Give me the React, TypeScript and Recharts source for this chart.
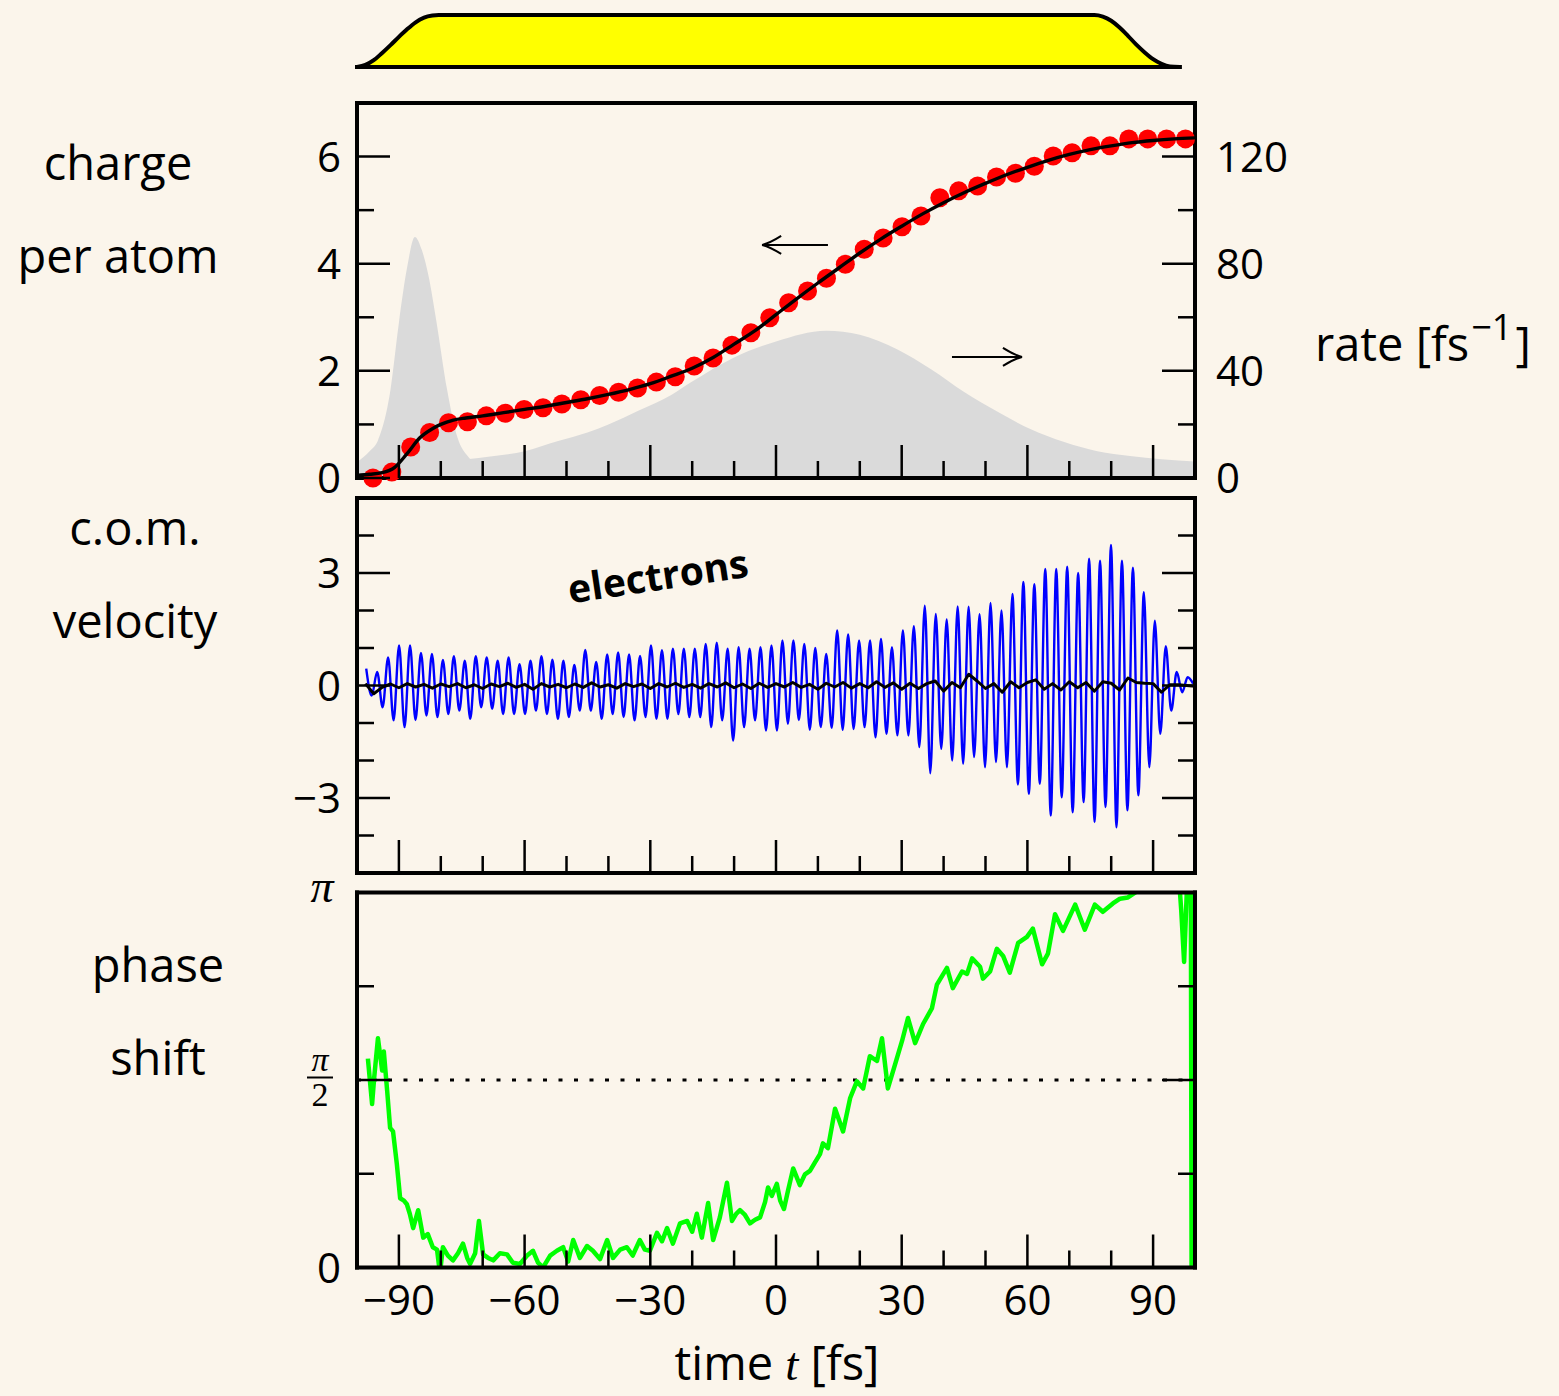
import React from 'react';
import { ComposedChart, Line, Area, XAxis, YAxis, ReferenceLine } from 'recharts';

// ---------- page geometry ----------
const W = 1559;
const H = 1396;
const BG = '#FBF5EB';
const SANS = "'Open Sans', 'DejaVu Sans', sans-serif";
const MATH = "'Liberation Serif', 'DejaVu Serif', serif";
const PLOT_LEFT = 357;
const PLOT_RIGHT = 1195;
const AXIS_W = 60;
const AXIS_H = 30;
const MAJOR = 33;
const MINOR = 17;
const TICK_W = 2.5;
const FRAME = { stroke: '#000', strokeWidth: 4, strokeLinecap: 'square' as const };

// ---------- axes ----------
const timeTicks = [-90, -80, -70, -60, -50, -40, -30, -20, -10, 0, 10, 20, 30, 40, 50, 60, 70, 80, 90];
const chargeTicks = [0, 1, 2, 3, 4, 5, 6, 7];
const chargeLabels = [0, 2, 4, 6];
const rateTicks = [0, 20, 40, 60, 80, 100, 120, 140];
const rateLabels = [0, 40, 80, 120];
const velTicks = [-5, -4, -3, -2, -1, 0, 1, 2, 3, 4, 5];
const velLabels = [-3, 0, 3];
const phaseTicks = [0, Math.PI / 4, Math.PI / 2, (3 * Math.PI) / 4, Math.PI];

// ---------- laser pulse envelope (t [fs], relative intensity) ----------
const pulseEnvelope: [number, number][] = [
  [-100, 0], [-98, 0.04], [-96, 0.13], [-94, 0.27], [-92, 0.42], [-90, 0.58], [-88, 0.73],
  [-86, 0.86], [-84, 0.95], [-82, 0.99], [-80.5, 1], [76, 1], [78, 0.97], [80, 0.89],
  [82, 0.76], [84, 0.6], [86, 0.43], [88, 0.28], [90, 0.15], [92, 0.06], [94, 0.01], [96.4, 0],
];
const pulseEnd = 96.4;

// ---------- charge per atom ----------
const chargeDotStart = -96.2;
const chargeDotStep = 4.51;
const chargeDots = [
  0.0, 0.11, 0.58, 0.85, 1.03, 1.05, 1.16, 1.21, 1.28, 1.31, 1.38, 1.46, 1.54, 1.6, 1.68,
  1.79, 1.89, 2.09, 2.24, 2.48, 2.71, 2.99, 3.27, 3.49, 3.73, 3.99, 4.27, 4.48, 4.69, 4.89,
  5.23, 5.36, 5.45, 5.62, 5.69, 5.82, 6.01, 6.07, 6.2, 6.2, 6.33, 6.33, 6.33, 6.33,
];
const chargeFit: [number, number][] = [
  [-100, 0.05], [-97, 0.07], [-94, 0.1], [-91, 0.2], [-88, 0.46], [-85, 0.75], [-82, 0.92],
  [-80, 1.0], [-77, 1.08], [-74, 1.12], [-70, 1.16], [-65, 1.22], [-60, 1.28], [-55, 1.34],
  [-50, 1.41], [-45, 1.48], [-40, 1.56], [-35, 1.65], [-30, 1.76], [-25, 1.9], [-20, 2.05],
  [-15, 2.25], [-10, 2.5], [-5, 2.75], [0, 3.05], [5, 3.35], [10, 3.64], [15, 3.92], [20, 4.2],
  [25, 4.46], [30, 4.7], [35, 4.93], [40, 5.14], [45, 5.33], [50, 5.5], [55, 5.66], [60, 5.8],
  [65, 5.93], [70, 6.04], [75, 6.13], [80, 6.2], [85, 6.26], [90, 6.3], [95, 6.33], [100, 6.35],
];

// ---------- ionization rates [1/fs] ----------
const rateInner: [number, number][] = [
  [-100, 6], [-97, 10], [-95, 14], [-92, 33], [-90, 58], [-88, 79], [-86.2, 90], [-84.5, 85],
  [-83, 76], [-81, 58], [-78.5, 33], [-76, 15], [-73.5, 8], [-70, 4], [-65, 2], [-55, 1],
  [-40, 0.4], [-20, 0],
];
const rateOuter: [number, number][] = [
  [-100, 3], [-90, 4.5], [-80, 6], [-71, 7.5], [-60, 10], [-52, 13.8], [-45, 17], [-40, 20],
  [-33, 25], [-25, 31], [-20, 36], [-10, 45], [0, 51], [12, 55], [20, 53.5], [29, 48],
  [37, 40.6], [45, 32], [53, 24.6], [60.7, 18.3], [68.8, 13.4], [76.7, 10], [84.5, 8.2],
  [92, 7], [100, 6.2],
];

// ---------- centre-of-mass velocity ----------
// electrons: successive extrema, sampled every half period
const electronStart = -97.8;
const electronStep = 1.307;
const electronVel = [
  0.45, -0.27, 0.36, -0.58, 0.75, -0.93, 1.07, -1.11, 1.07, -0.92, 0.87, -0.8, 0.84, -0.84,
  0.68, -0.76, 0.78, -0.67, 0.66, -0.89, 0.78, -0.58, 0.75, -0.62, 0.66, -0.76, 0.75, -0.76,
  0.57, -0.76, 0.66, -0.67, 0.78, -0.76, 0.69, -0.89, 0.66, -0.84, 0.55, -0.67, 0.95, -0.67,
  0.63, -0.89, 0.83, -0.76, 0.88, -0.84, 0.83, -0.93, 0.79, -0.84, 1.07, -0.89, 0.94, -0.89,
  0.98, -0.76, 0.98, -0.84, 0.98, -0.84, 1.11, -1.11, 1.14, -0.93, 0.98, -1.47, 1.02, -1.11,
  0.98, -0.93, 1.02, -1.2, 1.07, -1.2, 1.2, -1.02, 1.2, -0.92, 1.11, -1.18, 1.0, -1.11, 0.84,
  -1.13, 1.47, -1.18, 1.36, -1.16, 1.2, -1.11, 1.2, -1.38, 1.24, -1.29, 1.02, -1.33, 1.47,
  -1.33, 1.58, -1.64, 2.13, -2.34, 1.91, -1.69, 1.76, -2.0, 2.11, -2.09, 2.1, -1.91, 1.9,
  -2.18, 2.2, -2.04, 2.0, -2.18, 2.44, -2.64, 2.76, -2.89, 2.7, -2.62, 3.11, -3.47, 3.11,
  -2.98, 3.17, -3.38, 3.0, -3.11, 3.38, -3.64, 3.33, -3.24, 3.75, -3.78, 3.33, -3.33, 3.14,
  -2.93, 2.49, -2.18, 1.73, -1.29, 1.05, -0.67, 0.36, -0.18, 0.22, 0.05,
];
// ions: sampled every 2 fs
const ionStart = -98;
const ionStep = 2;
const ionVel = [
  0.05, -0.22, -0.05, 0.04, -0.06, 0.05, -0.04, 0.03, -0.07, 0.04, -0.03, 0.05, -0.06, 0.02,
  -0.08, 0.04, -0.03, 0.06, -0.05, 0.03, -0.1, 0.05, -0.04, 0.03, -0.06, 0.04, -0.05, 0.07,
  -0.04, 0.02, -0.07, 0.05, -0.03, 0.04, -0.08, 0.05, -0.04, 0.06, -0.05, 0.03, -0.07, 0.05,
  -0.04, 0.07, -0.06, 0.04, -0.08, 0.06, -0.05, 0.05, -0.04, 0.08, -0.05, 0.03, -0.1, 0.06,
  -0.04, 0.08, -0.07, 0.05, -0.06, 0.1, -0.05, 0.07, -0.1, 0.06, -0.08, 0.05, 0.12, -0.15,
  0.08, -0.06, 0.3, 0.12, -0.08, 0.05, -0.18, 0.1, -0.06, 0.08, 0.15, -0.1, 0.05, -0.12, 0.1,
  -0.06, 0.08, -0.15, 0.1, 0.06, -0.12, 0.2, 0.08, 0.06, 0.05, -0.18, 0.02, 0.02, 0.0, -0.02,
];

// ---------- phase shift (t [fs], rad) ----------
const phaseShift: [number, number][] = [
  [-97.4, 1.75], [-96.4, 1.37], [-95.9, 1.59], [-95.0, 1.92], [-94.0, 1.65], [-93.6, 1.81],
  [-92.8, 1.48], [-92.1, 1.17], [-91.4, 1.14], [-90.5, 0.87], [-89.7, 0.58], [-88.8, 0.56],
  [-88.1, 0.53], [-87.4, 0.45], [-86.6, 0.33], [-85.4, 0.48], [-84.2, 0.25], [-83.1, 0.28],
  [-81.9, 0.17], [-80.9, 0.15], [-80.2, -0.05], [-79.5, 0.17], [-78.3, 0.1], [-77.1, 0.06],
  [-75.9, 0.12], [-74.7, 0.2], [-73.7, 0.08], [-73.0, 0.03], [-71.8, 0.12], [-70.9, 0.39],
  [-69.9, 0.11], [-68.7, 0.08], [-67.5, 0.06], [-65.9, 0.12], [-64.2, 0.11], [-62.8, 0.04],
  [-61.1, 0.03], [-59.4, 0.1], [-58.0, 0.14], [-56.8, 0.04], [-55.6, 0.0], [-53.9, 0.1],
  [-52.3, 0.14], [-50.8, 0.17], [-49.6, 0.05], [-48.4, 0.23], [-46.8, 0.08], [-45.1, 0.18],
  [-43.7, 0.14], [-42.0, 0.07], [-40.3, 0.23], [-38.9, 0.08], [-37.2, 0.15], [-35.6, 0.17],
  [-34.2, 0.1], [-32.5, 0.23], [-31.3, 0.15], [-30.1, 0.14], [-28.4, 0.29], [-27.2, 0.22],
  [-26.0, 0.33], [-24.6, 0.2], [-22.9, 0.37], [-21.2, 0.39], [-20.0, 0.3], [-18.9, 0.45],
  [-17.7, 0.25], [-16.2, 0.54], [-15.0, 0.23], [-13.4, 0.42], [-11.7, 0.71], [-10.5, 0.39],
  [-9.5, 0.45], [-8.6, 0.48], [-7.4, 0.44], [-6.2, 0.37], [-5.0, 0.4], [-3.8, 0.42],
  [-2.6, 0.55], [-1.9, 0.67], [-1.0, 0.6], [0.2, 0.7], [1.0, 0.56], [1.9, 0.49], [2.9, 0.65],
  [4.1, 0.83], [5.7, 0.69], [6.9, 0.78], [8.1, 0.81], [9.3, 0.88], [10.5, 0.95], [11.2, 1.04],
  [12.4, 1.0], [14.1, 1.33], [16.0, 1.14], [17.7, 1.42], [19.3, 1.56], [20.8, 1.5],
  [22.4, 1.77], [24.1, 1.73], [25.3, 1.92], [26.7, 1.5], [28.4, 1.7], [30.1, 1.9], [31.5, 2.09],
  [33.2, 1.88], [35.1, 2.04], [37.2, 2.17], [38.4, 2.37], [40.8, 2.51], [42.2, 2.34],
  [44.4, 2.48], [45.6, 2.46], [46.8, 2.59], [48.7, 2.52], [49.4, 2.42], [51.1, 2.48],
  [52.7, 2.67], [54.2, 2.61], [55.8, 2.47], [57.8, 2.72], [59.9, 2.77], [61.3, 2.84],
  [63.5, 2.54], [64.9, 2.63], [66.6, 2.96], [68.5, 2.82], [71.4, 3.04], [73.7, 2.83],
  [76.1, 3.04], [78.0, 2.98], [80.4, 3.05], [82.1, 3.09], [84.0, 3.1], [85.7, 3.14],
  [87.4, 3.2], [89.3, 3.25], [91.6, 3.3], [94.0, 3.35], [95.9, 3.4], [96.7, 3.0], [97.4, 2.56],
  [98.1, 3.2], [98.6, 3.4], [99.0, 3.4], [99.2, -0.3], [100, -0.3],
];

// ---------- annotation arrows (t, charge) ----------
const arrowToCharge = { from: 12.4, to: -3.3, level: 4.35 };
const arrowToRate = { from: 42.0, to: 58.7, level: 2.26 };

// ---------- table rows for the library ----------
const pulseRows = pulseEnvelope.map(([t, a]) => ({ t, a }));
const dotRows = chargeDots.map((q, i) => ({ t: chargeDotStart + i * chargeDotStep, q }));
const fitRows = chargeFit.map(([t, q]) => ({ t, q }));
const innerRows = rateInner.map(([t, r]) => ({ t, r }));
const outerRows = rateOuter.map(([t, r]) => ({ t, r }));
const electronRows = electronVel.map((v, i) => ({ t: electronStart + i * electronStep, v }));
const ionRows = ionVel.map((v, i) => ({ t: ionStart + i * ionStep, v }));
const phaseRows = phaseShift.map(([t, p]) => ({ t, p }));

// ---------- tick renderers (ticks point into the frame) ----------
const minus = (v: number) => (v < 0 ? '\u2212' + Math.abs(v) : String(v));
const near = (a: number, b: number) => Math.abs(a - b) < 1e-6;
const isMajorTime = (v: number) => near(Math.abs(v) % 30, 0);

const tickText = (x: number, y: number, s: string, anchor: 'start' | 'middle' | 'end') => (
  <text x={x} y={y} textAnchor={anchor} fontFamily={SANS} fontSize={42} fill="#000">
    {s}
  </text>
);

const bottomTick = (labels: boolean) => (props: any) => {
  const { x, y, payload } = props;
  const v = payload.value as number;
  const major = isMajorTime(v);
  return (
    <g>
      <line x1={x} x2={x} y1={y} y2={y - (major ? MAJOR : MINOR)} stroke="#000" strokeWidth={TICK_W} />
      {labels && major ? tickText(x, y + 47, minus(v), 'middle') : null}
    </g>
  );
};

const topTick = (props: any) => {
  const { x, y, payload } = props;
  const major = isMajorTime(payload.value);
  return <line x1={x} x2={x} y1={y} y2={y + (major ? MAJOR : MINOR)} stroke="#000" strokeWidth={TICK_W} />;
};

const sideTick =
  (side: 'left' | 'right', isMajor: (v: number) => boolean, label?: (v: number, x: number, y: number) => React.ReactNode) =>
  (props: any) => {
    const { x, y, payload } = props;
    const v = payload.value as number;
    const dir = side === 'left' ? 1 : -1;
    return (
      <g>
        <line x1={x} x2={x + dir * (isMajor(v) ? MAJOR : MINOR)} y1={y} y2={y} stroke="#000" strokeWidth={TICK_W} />
        {label ? label(v, x, y) : null}
      </g>
    );
  };

const leftNumber = (labels: number[]) => (v: number, x: number, y: number) =>
  labels.some((l) => near(l, v)) ? tickText(x - 16, y + 15, minus(v), 'end') : null;
const rightNumber = (labels: number[]) => (v: number, x: number, y: number) =>
  labels.some((l) => near(l, v)) ? tickText(x + 21, y + 15, minus(v), 'start') : null;

const phaseLabel = (v: number, x: number, y: number) => {
  if (near(v, 0)) return tickText(x - 16, y + 15, '0', 'end');
  if (near(v, Math.PI))
    return (
      <text x={x - 35} y={y + 9} textAnchor="middle" fontFamily={MATH} fontStyle="italic" fontSize={46} fill="#000">
        {'\u03c0'}
      </text>
    );
  if (near(v, Math.PI / 2))
    return (
      <g>
        <text x={x - 37} y={y - 9} textAnchor="middle" fontFamily={MATH} fontStyle="italic" fontSize={34} fill="#000">
          {'\u03c0'}
        </text>
        <line x1={x - 50} x2={x - 24} y1={y - 2.5} y2={y - 2.5} stroke="#000" strokeWidth={2} />
        <text x={x - 37} y={y + 26} textAnchor="middle" fontFamily={MATH} fontSize={34} fill="#000">
          2
        </text>
      </g>
    );
  return null;
};

// open arrow head in the style of a typeset right/left arrow
const arrowShape = (props: any) => {
  const { x1, y1, x2, y2 } = props;
  const d = Math.sign(x2 - x1);
  return (
    <g>
      <line x1={x1} y1={y1} x2={x2} y2={y2} stroke="#000" strokeWidth={2} />
      <path
        d={`M${x2 - d * 19},${y2 - 9} Q${x2 - d * 8},${y2 - 2} ${x2},${y2} Q${x2 - d * 8},${y2 + 2} ${x2 - d * 19},${y2 + 9}`}
        fill="none"
        stroke="#000"
        strokeWidth={2}
      />
    </g>
  );
};

// ---------- shared frame axes ----------
const timeAxes = (labels: boolean) => [
  <XAxis
    key="xb"
    xAxisId="b"
    dataKey="t"
    type="number"
    domain={[-100, 100]}
    ticks={timeTicks}
    interval={0}
    height={AXIS_H}
    tickSize={0}
    tickMargin={0}
    tickLine={false}
    axisLine={FRAME}
    tick={bottomTick(labels)}
  />,
  <XAxis
    key="xt"
    xAxisId="t"
    orientation="top"
    type="number"
    domain={[-100, 100]}
    allowDataOverflow
    ticks={timeTicks}
    interval={0}
    height={AXIS_H}
    tickSize={0}
    tickMargin={0}
    tickLine={false}
    axisLine={FRAME}
    tick={topTick}
  />,
];

const panelMargin = (top: number, bottom: number) => ({
  top: top - AXIS_H,
  bottom: H - bottom - AXIS_H,
  left: PLOT_LEFT - AXIS_W,
  right: W - PLOT_RIGHT - AXIS_W,
});

// margins for a layer whose axes are hidden (plot rectangle only)
const bareMargin = (top: number, bottom: number) => ({
  top,
  bottom: H - bottom,
  left: PLOT_LEFT,
  right: W - PLOT_RIGHT,
});

const layer: React.CSSProperties = { position: 'absolute', left: 0, top: 0 };

function PulseChart() {
  return (
    <div style={layer}>
      <ComposedChart width={W} height={H} margin={bareMargin(15, 67)}>
        <XAxis dataKey="t" type="number" domain={[-100, 100]} hide />
        <YAxis domain={[0, 1]} hide />
        <Area
          data={pulseRows}
          dataKey="a"
          type="monotone"
          fill="#ffff00"
          fillOpacity={1}
          stroke="#000"
          strokeWidth={4}
          isAnimationActive={false}
          dot={false}
          activeDot={false}
        />
        <ReferenceLine
          segment={[{ x: -100, y: 0 }, { x: pulseEnd, y: 0 }]}
          stroke="#000"
          strokeWidth={4}
          strokeLinecap="square"
        />
      </ComposedChart>
    </div>
  );
}

function ChargePanel() {
  return (
    <div style={layer}>
      <ComposedChart width={W} height={H} margin={panelMargin(103, 478)}>
        {timeAxes(false)}
        <YAxis
          yAxisId="q"
          domain={[0, 7]}
          ticks={chargeTicks}
          interval={0}
          width={AXIS_W}
          tickSize={0}
          tickMargin={0}
          tickLine={false}
          axisLine={FRAME}
          tick={sideTick('left', (v) => v % 2 === 0, leftNumber(chargeLabels))}
        />
        <YAxis
          yAxisId="rate"
          orientation="right"
          domain={[0, 140]}
          ticks={rateTicks}
          interval={0}
          width={AXIS_W}
          tickSize={0}
          tickMargin={0}
          tickLine={false}
          axisLine={FRAME}
          tick={sideTick('right', (v) => v % 40 === 0, rightNumber(rateLabels))}
        />
        <Area
          data={outerRows}
          dataKey="r"
          xAxisId="b"
          yAxisId="rate"
          type="monotone"
          fill="#dadada"
          fillOpacity={1}
          stroke="none"
          isAnimationActive={false}
          dot={false}
          activeDot={false}
        />
        <Area
          data={innerRows}
          dataKey="r"
          xAxisId="b"
          yAxisId="rate"
          type="monotone"
          fill="#dadada"
          fillOpacity={1}
          stroke="none"
          isAnimationActive={false}
          dot={false}
          activeDot={false}
        />
        <ReferenceLine
          xAxisId="b"
          yAxisId="q"
          segment={[{ x: arrowToCharge.from, y: arrowToCharge.level }, { x: arrowToCharge.to, y: arrowToCharge.level }]}
          shape={arrowShape}
        />
        <ReferenceLine
          xAxisId="b"
          yAxisId="q"
          segment={[{ x: arrowToRate.from, y: arrowToRate.level }, { x: arrowToRate.to, y: arrowToRate.level }]}
          shape={arrowShape}
        />
        <Line
          data={dotRows}
          dataKey="q"
          xAxisId="b"
          yAxisId="q"
          stroke="none"
          isAnimationActive={false}
          dot={{ r: 9.5, fill: '#ff0000', stroke: 'none' }}
          activeDot={false}
        />
      </ComposedChart>
    </div>
  );
}

// the fitted charge curve sits on top of the data points
function ChargeFitLayer() {
  return (
    <div style={layer}>
      <ComposedChart width={W} height={H} margin={bareMargin(103, 478)}>
        <XAxis dataKey="t" type="number" domain={[-100, 100]} hide />
        <YAxis domain={[0, 7]} hide />
        <Line
          data={fitRows}
          dataKey="q"
          type="monotone"
          stroke="#000"
          strokeWidth={3.4}
          isAnimationActive={false}
          dot={false}
          activeDot={false}
        />
      </ComposedChart>
    </div>
  );
}

function VelocityPanel() {
  return (
    <div style={layer}>
      <ComposedChart width={W} height={H} margin={panelMargin(498, 873)}>
        {timeAxes(false)}
        <YAxis
          yAxisId="v"
          domain={[-5, 5]}
          ticks={velTicks}
          interval={0}
          width={AXIS_W}
          tickSize={0}
          tickMargin={0}
          tickLine={false}
          axisLine={FRAME}
          tick={sideTick('left', (v) => v % 3 === 0, leftNumber(velLabels))}
        />
        <YAxis
          yAxisId="vr"
          orientation="right"
          domain={[-5, 5]}
          allowDataOverflow
          ticks={velTicks}
          interval={0}
          width={AXIS_W}
          tickSize={0}
          tickMargin={0}
          tickLine={false}
          axisLine={FRAME}
          tick={sideTick('right', (v) => v % 3 === 0)}
        />
        <Line
          data={electronRows}
          dataKey="v"
          xAxisId="b"
          yAxisId="v"
          type="monotone"
          stroke="#0000ff"
          strokeWidth={2.4}
          isAnimationActive={false}
          dot={false}
          activeDot={false}
        />
        <Line
          data={ionRows}
          dataKey="v"
          xAxisId="b"
          yAxisId="v"
          type="linear"
          stroke="#000"
          strokeWidth={3}
          strokeLinejoin="round"
          isAnimationActive={false}
          dot={false}
          activeDot={false}
        />
      </ComposedChart>
    </div>
  );
}

function PhasePanel() {
  const majorPhase = (v: number) => near(v, 0) || near(v, Math.PI / 2) || near(v, Math.PI);
  return (
    <div style={layer}>
      <ComposedChart width={W} height={H} margin={panelMargin(892.5, 1267.5)}>
        {timeAxes(true)}
        <YAxis
          yAxisId="p"
          domain={[0, Math.PI]}
          allowDataOverflow
          ticks={phaseTicks}
          interval={0}
          width={AXIS_W}
          tickSize={0}
          tickMargin={0}
          tickLine={false}
          axisLine={FRAME}
          tick={sideTick('left', majorPhase, phaseLabel)}
        />
        <YAxis
          yAxisId="pr"
          orientation="right"
          domain={[0, Math.PI]}
          allowDataOverflow
          ticks={phaseTicks}
          interval={0}
          width={AXIS_W}
          tickSize={0}
          tickMargin={0}
          tickLine={false}
          axisLine={FRAME}
          tick={sideTick('right', majorPhase)}
        />
        <ReferenceLine xAxisId="b" yAxisId="p" y={Math.PI / 2} stroke="#000" strokeWidth={3.2} strokeDasharray="4 11.5" />
        <Line
          data={phaseRows}
          dataKey="p"
          xAxisId="b"
          yAxisId="p"
          type="linear"
          stroke="#00ff00"
          strokeWidth={4.5}
          strokeLinejoin="round"
          isAnimationActive={false}
          dot={false}
          activeDot={false}
        />
      </ComposedChart>
    </div>
  );
}

function Labels() {
  const word = { fontFamily: SANS, fontSize: 47, fill: '#000' };
  return (
    <svg width={W} height={H} style={{ ...layer, pointerEvents: 'none' }}>
      <text x={118} y={180} textAnchor="middle" {...word}>charge</text>
      <text x={118} y={273} textAnchor="middle" {...word}>per atom</text>
      <text x={135} y={545} textAnchor="middle" {...word}>c.o.m.</text>
      <text x={135} y={638} textAnchor="middle" {...word}>velocity</text>
      <text x={158} y={982} textAnchor="middle" {...word}>phase</text>
      <text x={158} y={1075} textAnchor="middle" {...word}>shift</text>
      <text x={1315} y={361} {...word}>
        {'rate [fs'}
        <tspan dx={2} dy={-21} fontSize={36}>{'\u22121'}</tspan>
        <tspan dx={3} dy={21}>]</tspan>
      </text>
      <text x={777} y={1380} textAnchor="middle" {...word}>
        {'time '}
        <tspan fontFamily={MATH} fontStyle="italic">t</tspan>
        {' [fs]'}
      </text>
      <text
        x={660}
        y={590}
        transform="rotate(-8.5 660 590)"
        textAnchor="middle"
        fontFamily={SANS}
        fontWeight="bold"
        fontSize={39}
        fill="#000"
      >
        electrons
      </text>
    </svg>
  );
}

export default function App() {
  return (
    <div style={{ position: 'relative', width: W, height: H, background: BG, overflow: 'hidden' }}>
      <style>{`html,body{margin:0;padding:0;background:${BG};}`}</style>
      <PulseChart />
      <ChargePanel />
      <ChargeFitLayer />
      <VelocityPanel />
      <PhasePanel />
      <Labels />
    </div>
  );
}
